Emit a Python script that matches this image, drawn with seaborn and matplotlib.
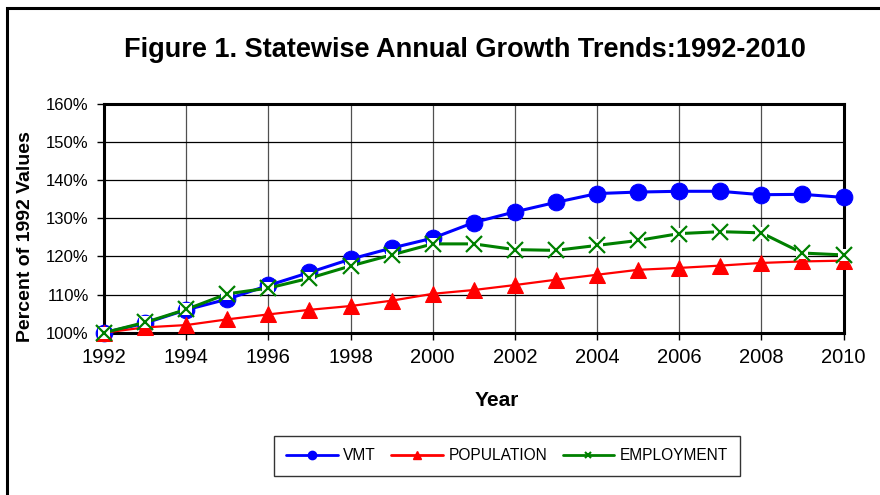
import matplotlib
matplotlib.use("Agg")
import matplotlib.pyplot as plt
from matplotlib.lines import Line2D
from matplotlib.patches import Rectangle
from matplotlib.ticker import FuncFormatter, MultipleLocator
import seaborn as sns
import pandas as pd

years = list(range(1992, 2011))
vmt = [1.000, 1.025, 1.060, 1.088, 1.124, 1.158, 1.193, 1.222, 1.248, 1.289,
       1.317, 1.342, 1.365, 1.369, 1.371, 1.371, 1.362, 1.363, 1.355]
population = [1.000, 1.014, 1.020, 1.035, 1.048, 1.060, 1.070, 1.084, 1.102, 1.112,
              1.125, 1.139, 1.152, 1.165, 1.170, 1.176, 1.183, 1.187, 1.189]
employment = [1.000, 1.027, 1.061, 1.102, 1.117, 1.143, 1.175, 1.204, 1.233, 1.233,
              1.218, 1.216, 1.229, 1.242, 1.260, 1.265, 1.262, 1.209, 1.204]
series_names = ["VMT", "POPULATION", "EMPLOYMENT"]
y_ticks = [1.0, 1.1, 1.2, 1.3, 1.4, 1.5, 1.6]

df = pd.DataFrame({"Year": years, "VMT": vmt, "POPULATION": population,
                   "EMPLOYMENT": employment})

sns.set_style("white")
plt.rcParams["font.family"] = ["Liberation Sans", "DejaVu Sans"]
plt.rcParams["text.color"] = "black"

fig = plt.figure(figsize=(8.8, 4.95), dpi=100)
W, H = 880, 495
ax = fig.add_axes([104 / W, 1 - 332.7 / H, (843.5 - 104) / W, (332.7 - 104) / H])

# VMT
sns.lineplot(data=df, x="Year", y="VMT", ax=ax, color="#0000FF", linewidth=2.2,
             marker="o", markersize=12, markeredgecolor="#0000FF",
             clip_on=False, zorder=3)
# Population
sns.lineplot(data=df, x="Year", y="POPULATION", ax=ax, color="#FF0000", linewidth=1.6,
             marker="^", markersize=12, markeredgecolor="#FF0000",
             clip_on=False, zorder=4)
# Employment: line, white backing behind each cross, then the crosses
sns.lineplot(data=df, x="Year", y="EMPLOYMENT", ax=ax, color="#008000", linewidth=2.2,
             clip_on=False, zorder=5)
ax.plot(df["Year"], df["EMPLOYMENT"], linestyle="none", marker="s", markersize=9,
        color="white", markeredgewidth=0, clip_on=False, zorder=6)
ax.plot(df["Year"], df["EMPLOYMENT"], linestyle="none", marker="x", markersize=11,
        color="#008000", markeredgewidth=1.6, clip_on=False, zorder=7)

ax.set_xlim(1992, 2010)
ax.set_ylim(1.0, 1.6)
ax.xaxis.set_major_locator(MultipleLocator(2))
ax.set_yticks(y_ticks)
ax.yaxis.set_major_formatter(FuncFormatter(lambda v, _: f"{v * 100:.0f}%"))
ax.grid(True, axis="y", color="black", linewidth=0.9)
ax.grid(True, axis="x", color="#505050", linewidth=0.9)
ax.set_axisbelow(True)
for s in ax.spines.values():
    s.set_visible(True)
    s.set_color("black")
    s.set_linewidth(2.2)
ax.tick_params(axis="both", which="major", direction="out", length=5, width=1,
               color="black", labelcolor="black", left=True, bottom=True)
ax.tick_params(axis="x", labelsize=14.5, pad=6)
ax.tick_params(axis="y", labelsize=12, pad=6)
ax.set_xlabel("")
ax.set_ylabel("")

fig.text(465 / W, 1 - 50 / H, "Figure 1. Statewise Annual Growth Trends:1992-2010",
         ha="center", va="center", fontsize=19.5, fontweight="bold", color="black")
fig.text(26 / W, 1 - 237 / H, "Percent of 1992 Values", rotation=90,
         ha="center", va="center", fontsize=14, fontweight="bold", color="black")
fig.text(497 / W, 1 - 400 / H, "Year", ha="center", va="center",
         fontsize=15, fontweight="bold", color="black")

handles = [
    Line2D([], [], color="#0000FF", linewidth=2, marker="o", markersize=6),
    Line2D([], [], color="#FF0000", linewidth=2, marker="^", markersize=6),
    Line2D([], [], color="#008000", linewidth=2, marker="x", markersize=5,
           markeredgewidth=1.5),
]
leg = fig.legend(handles, series_names, loc="center", ncol=3,
                 bbox_to_anchor=(507 / W, 1 - 456 / H), fontsize=11.2,
                 frameon=True, fancybox=False, edgecolor="black",
                 handlelength=3.3, handletextpad=0.35, columnspacing=1.0,
                 borderpad=0.8, borderaxespad=0, labelcolor="black")
leg.get_frame().set_linewidth(1)

# Chart frame along the top and left
fig.patches.append(Rectangle((7 / W, -0.1), 1.2, 1 - 8 / H + 0.1,
                             transform=fig.transFigure, fill=False,
                             edgecolor="black", linewidth=2.2))

fig.savefig("out.png", dpi=100, facecolor="white")
